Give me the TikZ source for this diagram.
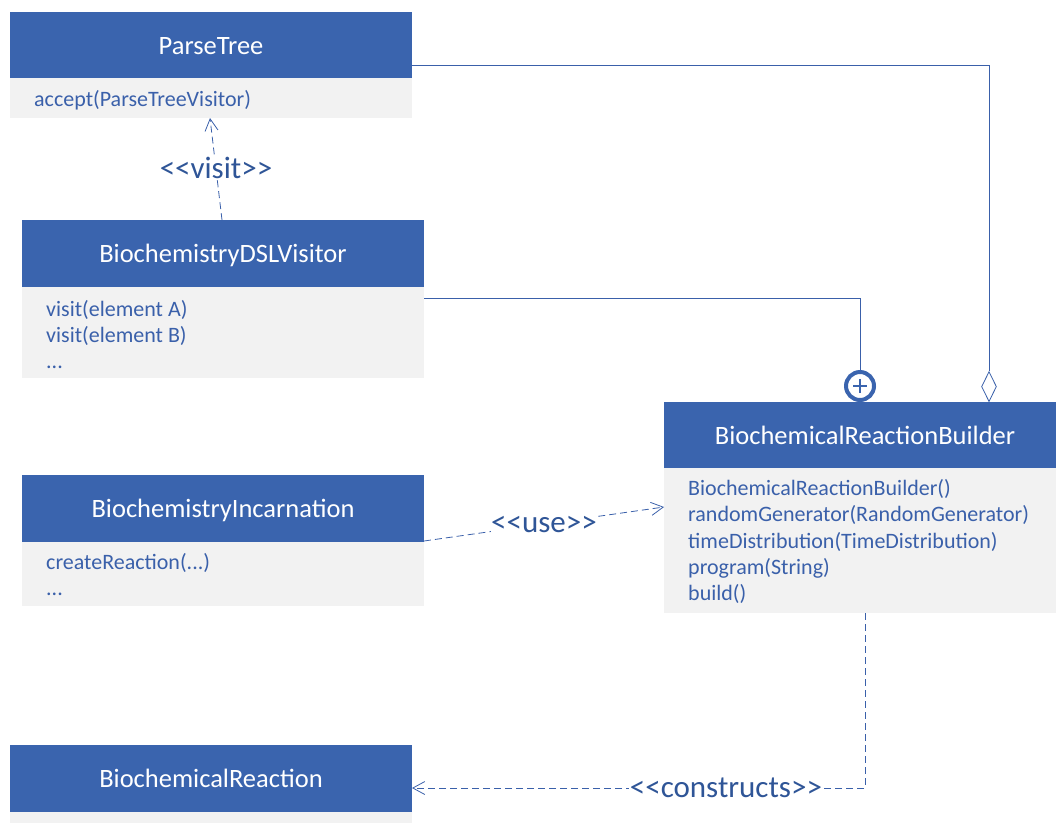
\documentclass[tikz,border=0pt]{standalone}
\usepackage{fontspec}
\setmainfont{Carlito}
\usetikzlibrary{arrows.meta,shapes.geometric,calc}
\definecolor{hdr}{RGB}{58,100,174}
\definecolor{bodybg}{RGB}{242,242,242}
\definecolor{ink}{RGB}{58,96,170}
\definecolor{stereo}{RGB}{47,85,151}
\tikzset{
  x=1pt, y=-1pt,
  header/.style={fill=hdr, draw=none},
  bodybox/.style={fill=bodybg, draw=none},
  title/.style={text=white, font=\fontsize{26.5}{30}\selectfont, inner sep=0pt, anchor=base},
  member/.style={text=ink, font=\fontsize{22}{26}\selectfont, anchor=base west, inner sep=0pt},
  link/.style={draw=ink, line width=0.8pt},
  depend/.style={draw=ink, line width=0.8pt, dash pattern=on 7pt off 4pt, -{Straight Barb[length=12pt,width=13pt,line width=0.8pt]}},
  stereolabel/.style={text=stereo, font=\fontsize{31}{34}\selectfont, fill=white, inner sep=0.5pt},
}
\begin{document}
\begin{tikzpicture}
\useasboundingbox (0,0) rectangle (1056,823);
\clip (0,0) rectangle (1056,823);

% ParseTree
\fill[bodybox] (10,78) rectangle (412,118);
\fill[header] (10,12) rectangle (412,78);
\node[title] (ptT) at (211,54) {ParseTree};
\node[member] (ptM1) at (34,106) {accept(ParseTreeVisitor)};
\coordinate (ptE) at (412,65);
\coordinate (ptB) at (210,118);

% BiochemistryDSLVisitor
\fill[bodybox] (22,287) rectangle (424,378);
\fill[header] (22,220) rectangle (424,287);
\node[title] (vT) at (223,262) {BiochemistryDSLVisitor};
\node[member] (vM1) at (46,316) {visit(element A)};
\node[member] (vM2) at (46,342.25) {visit(element B)};
\node[member] (vM3) at (46,368.5) {...};
\coordinate (vE) at (424,298);
\coordinate (vN) at (222,220);

% BiochemicalReactionBuilder
\fill[bodybox] (664,468) rectangle (1056,613);
\fill[header] (664,402) rectangle (1056,468);
\node[title] (bT) at (865,444) {BiochemicalReactionBuilder};
\node[member] (bM1) at (688,495.5) {BiochemicalReactionBuilder()};
\node[member] (bM2) at (688,521.75) {randomGenerator(RandomGenerator)};
\node[member] (bM3) at (688,548) {timeDistribution(TimeDistribution)};
\node[member] (bM4) at (688,574.25) {program(String)};
\node[member] (bM5) at (688,600.5) {build()};
\coordinate (bW) at (664,507);
\coordinate (bS) at (865,613);

% BiochemistryIncarnation
\fill[bodybox] (22,542) rectangle (424,606);
\fill[header] (22,475) rectangle (424,542);
\node[title] (iT) at (223,517) {BiochemistryIncarnation};
\node[member] (iM1) at (46,569) {createReaction(...)};
\node[member] (iM2) at (46,595.25) {...};
\coordinate (iE) at (424,541);

% BiochemicalReaction
\fill[bodybox] (10,812) rectangle (412,823);
\fill[header] (10,745) rectangle (412,812);
\node[title] (rT) at (211,787) {BiochemicalReaction};
\coordinate (rE) at (412,788);

% aggregation: ParseTree -> builder
\node[diamond, draw=ink, fill=white, line width=0.8pt, minimum width=15pt, minimum height=30pt, inner sep=0pt, anchor=south] (dia) at (989,402) {};
\draw[link] (ptE) -| (dia.north);

% nesting: visitor inside builder
\node[circle, draw=hdr, fill=white, line width=4pt, minimum size=28pt, inner sep=0pt] (nest) at (860,386) {};
\draw[hdr, line width=2pt] ($(nest.center)+(-7,0)$) -- ($(nest.center)+(7,0)$);
\draw[hdr, line width=2pt] ($(nest.center)+(0,-7)$) -- ($(nest.center)+(0,7)$);
\draw[link] (vE) -| (nest.north);

% dependencies
\draw[depend] (vN) -- node[stereolabel, pos=0.5, yshift=1pt] (lv) {<{}<visit>{}>} (ptB);
\draw[depend] (iE) -- node[stereolabel, pos=0.5] (lu) {<{}<use>{}>} (bW);
\coordinate (cc) at (865,788);
\draw[depend] (bS) -- (cc) -- node[stereolabel, pos=0.307] (lc) {<{}<constructs>{}>} (rE);
\end{tikzpicture}
\end{document}
